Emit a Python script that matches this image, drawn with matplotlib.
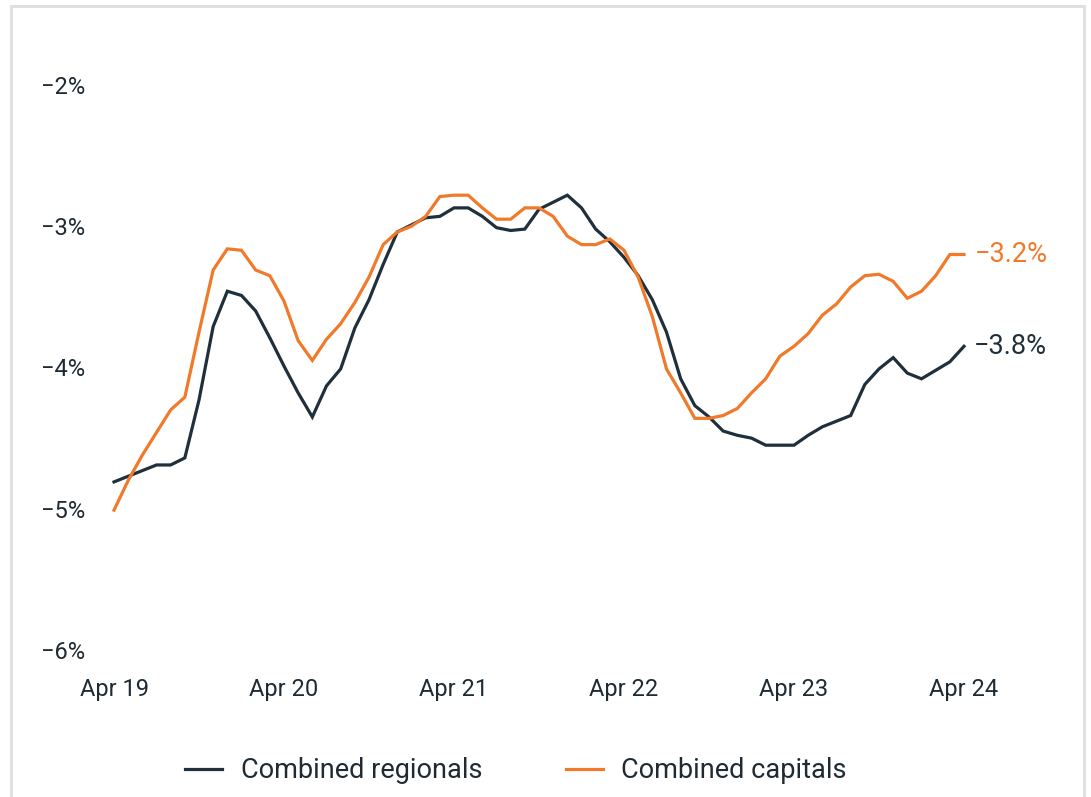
import matplotlib
matplotlib.use("Agg")
import matplotlib.pyplot as plt
from matplotlib.patches import Rectangle

# Monthly, Apr 2019 .. Apr 2024
months = list(range(61))
tick_positions = [0, 12, 24, 36, 48, 60]
tick_labels = ["Apr 19", "Apr 20", "Apr 21", "Apr 22", "Apr 23", "Apr 24"]
y_ticks = [-6, -5, -4, -3, -2]
y_tick_labels = ["\u22126%", "\u22125%", "\u22124%", "\u22123%", "\u22122%"]

regionals = [-4.81, -4.77, -4.73, -4.69, -4.69, -4.64, -4.23, -3.71, -3.46, -3.49,
             -3.60, -3.79, -3.99, -4.18, -4.35, -4.13, -4.01, -3.72, -3.52, -3.27,
             -3.04, -2.99, -2.94, -2.93, -2.87, -2.87, -2.93, -3.01, -3.03, -3.02,
             -2.88, -2.83, -2.78, -2.87, -3.02, -3.11, -3.22, -3.35, -3.52, -3.75,
             -4.08, -4.27, -4.35, -4.45, -4.48, -4.50, -4.55, -4.55, -4.55, -4.48,
             -4.42, -4.38, -4.34, -4.12, -4.01, -3.93, -4.04, -4.08, -4.02, -3.96,
             -3.85]
capitals = [-5.01, -4.80, -4.62, -4.46, -4.30, -4.21, -3.75, -3.31, -3.16, -3.17,
            -3.31, -3.35, -3.53, -3.81, -3.95, -3.80, -3.69, -3.54, -3.36, -3.13,
            -3.04, -3.00, -2.93, -2.79, -2.78, -2.78, -2.87, -2.95, -2.95, -2.87,
            -2.87, -2.93, -3.07, -3.13, -3.13, -3.09, -3.17, -3.36, -3.64, -4.01,
            -4.18, -4.36, -4.36, -4.34, -4.29, -4.18, -4.08, -3.92, -3.85, -3.76,
            -3.63, -3.55, -3.43, -3.35, -3.34, -3.39, -3.51, -3.46, -3.35, -3.20,
            -3.20]
series_names = ["Combined regionals", "Combined capitals"]
end_labels = ["\u22123.8%", "\u22123.2%"]

DARK = "#1f2f3b"
ORANGE = "#f07a2a"
TEXT = "#1f2a33"

plt.rcParams['font.family'] = ['Roboto', 'DejaVu Sans']

W, H = 1091, 797
fig = plt.figure(figsize=(W / 100, H / 100), dpi=100)
fig.patch.set_facecolor("white")

# light border frame
fig.add_artist(Rectangle((10.5 / W, -0.05), (1084 - 10.5) / W, 1.05 - 5.5 / H,
                         transform=fig.transFigure, fill=False,
                         edgecolor="#e0e0e0", linewidth=2.2))

ax = fig.add_axes([114 / W, (H - 650) / H, 850 / W, 565 / H])
ax.set_xlim(0, 60)
ax.set_ylim(-6, -2)
for s in ax.spines.values():
    s.set_visible(False)

l1, = ax.plot(months, regionals, color=DARK, lw=2.3, solid_joinstyle="miter",
              clip_on=False, label=series_names[0])
l2, = ax.plot(months, capitals, color=ORANGE, lw=2.3, solid_joinstyle="miter",
              clip_on=False, label=series_names[1])

ax.set_xticks(tick_positions)
ax.set_xticklabels(tick_labels)
ax.set_yticks(y_ticks)
ax.set_yticklabels(y_tick_labels)
ax.tick_params(axis="both", length=0, labelsize=17, labelcolor=TEXT)
ax.tick_params(axis="x", pad=20)
ax.tick_params(axis="y", pad=21)

ax.annotate(end_labels[0], xy=(months[-1], regionals[-1]), xytext=(7, 0),
            textcoords="offset points", va="center", ha="left",
            fontsize=19.5, color=DARK)
ax.annotate(end_labels[1], xy=(months[-1], capitals[-1]), xytext=(8, 0),
            textcoords="offset points", va="center", ha="left",
            fontsize=19.5, color=ORANGE)

fig.legend(handles=[l1, l2], loc="center", bbox_to_anchor=(516 / W, (H - 771) / H),
           ncol=2, frameon=False, fontsize=19.5, handlelength=1.37, handletextpad=0.67,
           columnspacing=3.1, labelcolor=TEXT)

fig.savefig("out.png", dpi=100, facecolor="white")
